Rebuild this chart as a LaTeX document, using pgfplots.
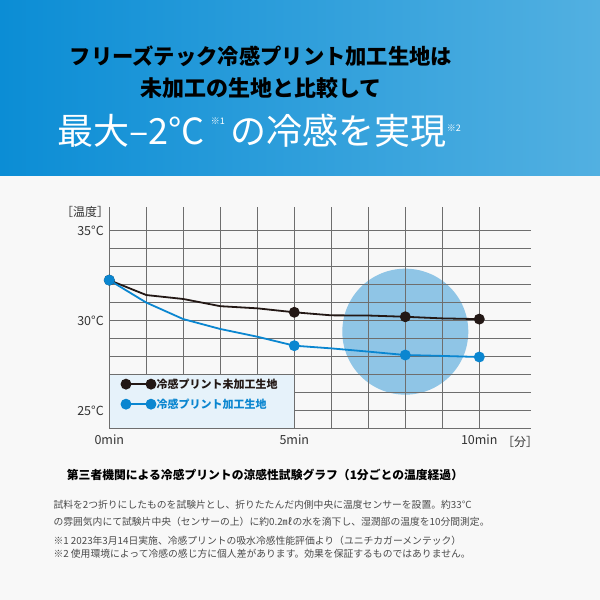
\documentclass[border=0pt]{standalone}
\usepackage{pgfplots}
\pgfplotsset{compat=1.18}
\usepackage{fontspec}
\setmainfont{Noto Sans CJK JP}
\definecolor{hdrL}{HTML}{0B8DD5}
\definecolor{hdrR}{HTML}{52B0E1}
\definecolor{bgc}{HTML}{F8F8F8}
\definecolor{gridc}{HTML}{6E6E6E}
\definecolor{circc}{HTML}{8FC5E6}
\definecolor{legbg}{HTML}{E6F2FA}
\definecolor{blk}{HTML}{231815}
\definecolor{blu}{HTML}{0A86D0}
\definecolor{txt}{HTML}{333333}
\definecolor{bodyc}{HTML}{4A4A4A}
\newcommand{\fs}[1]{\fontsize{#1}{#1}\selectfont}
\pgfplotsset{geom/.style={at={(109.3pt,-428.3pt)}, anchor=south west,
  x=37pt, y=17.96pt, xmin=0, xmax=11.4, ymin=24, ymax=36.33, clip=false}}
\begin{document}
\begin{tikzpicture}
\fill[bgc] (0,0) rectangle (600pt,-600pt);
\shade[left color=hdrL, right color=hdrR] (0,0) rectangle (600pt,-175pt);
\node[text=black] at (261pt,-56pt) {\fs{21.3}\bfseries フリーズテック冷感プリント加工生地は};
\node[text=black] at (261pt,-88pt) {\fs{22}\bfseries 未加工の生地と比較して};
\node[text=white] at (259pt,-131pt) {\fs{36}最大–2°C\,\raisebox{20pt}{\fs{9}※1}\,の冷感を実現\raisebox{13pt}{\fs{9}※2}};

\begin{axis}[geom, hide axis]
\addplot[draw=none] coordinates {(0,24) (11.4,36.33)};
\fill[circc] (axis cs:8,29.38) circle[radius=63pt];
\end{axis}

\begin{axis}[
  geom,
  axis line style={draw=none},
  grid=major, grid style={draw=gridc, line width=0.9pt},
  xtick={0,...,10}, ytick={24,...,35},
  xticklabels={0min,{},{},{},{},5min,{},{},{},{},10min},
  yticklabels={{},25°C,{},{},{},{},30°C,{},{},{},{},35°C},
  major tick length=0pt, tick style={draw=none},
  xticklabel style={font=\fs{12.5}, text=txt, yshift=-3pt},
  yticklabel style={font=\fs{12.5}, text=txt, xshift=-2pt},
  legend style={at={(0,0.2433)}, anchor=north west, xshift=12pt, yshift=-3pt,
    draw=none, fill=none, font=\fs{11}\bfseries, row sep=7pt,
    inner xsep=0pt, inner ysep=0pt, nodes={inner sep=1pt}},
  legend cell align=left,
  legend image code/.code={\draw[#1, mark indices={1,2}] plot coordinates {(0pt,0pt) (25pt,0pt)};},
]
\filldraw[fill=legbg, draw=gridc, line width=0.9pt] (axis cs:0,24) rectangle (axis cs:5,27);
\addplot[blk, line width=1.8pt, mark=*, mark size=4.5pt, mark indices={1,6,9,11}] coordinates {
(0,32.25) (1,31.42) (2,31.2) (3,30.8) (4,30.68) (5,30.46) (6,30.29) (7,30.28) (8,30.21) (9,30.12) (10,30.08)};
\addlegendentry{\textcolor{blk}{冷感プリント未加工生地}}
\addplot[blu, line width=1.8pt, mark=*, mark size=4.5pt, mark indices={1,6,9,11}] coordinates {
(0,32.25) (1,31.0) (2,30.08) (3,29.53) (4,29.1) (5,28.6) (6,28.45) (7,28.27) (8,28.08) (9,28.03) (10,27.97)};
\addlegendentry{\textcolor{blu}{冷感プリント加工生地}}
\end{axis}

\node[text=txt] at (85pt,-212.3pt) {\fs{12}［温度］};
\node[text=txt] at (520pt,-441.7pt) {\fs{12}［分］};
\node[text=black] at (265pt,-475pt) {\fs{11.8}\bfseries 第三者機関による冷感プリントの涼感性試験グラフ（1分ごとの温度経過）};
\node[anchor=west, text=bodyc, inner sep=0pt] at (53.3pt,-504.7pt) {\fs{9.8}試料を2つ折りにしたものを試験片とし、折りたたんだ内側中央に温度センサーを設置。約33°C};
\node[anchor=west, text=bodyc, inner sep=0pt] at (53.3pt,-521.3pt) {\fs{9.8}の雰囲気内にて試験片中央（センサーの上）に約0.2㎖の水を滴下し、湿潤部の温度を10分間測定。};
\node[anchor=west, text=bodyc, inner sep=0pt] at (53.3pt,-540.7pt) {\fs{9.8}※1 2023年3月14日実施、冷感プリントの吸水冷感性能評価より（ユニチカガーメンテック）};
\node[anchor=west, text=bodyc, inner sep=0pt] at (53.3pt,-554pt) {\fs{9.8}※2 使用環境によって冷感の感じ方に個人差があります。効果を保証するものではありません。};
\end{tikzpicture}
\end{document}
